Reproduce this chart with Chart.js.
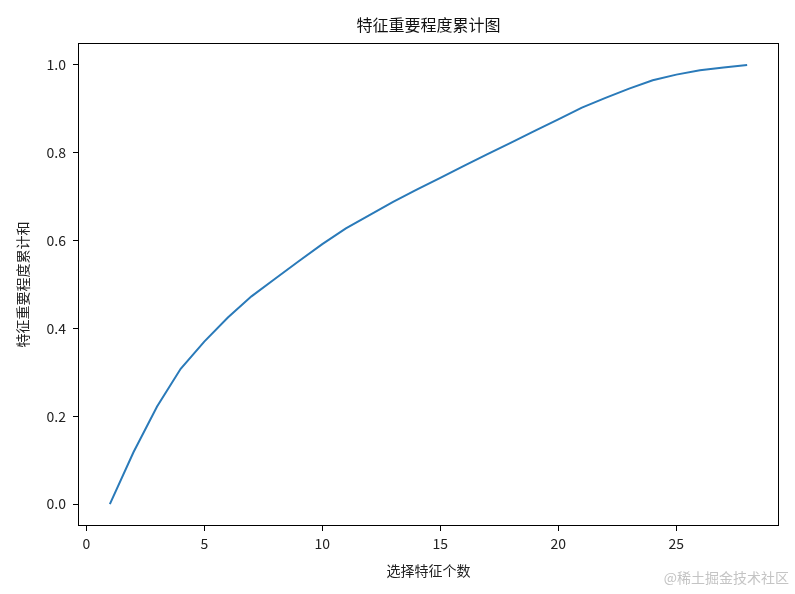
<!DOCTYPE html>
<html>
<head>
<meta charset="utf-8">
<script src="https://cdn.jsdelivr.net/npm/chart.js@4"></script>
<style>
html,body{margin:0;padding:0;background:#fff;}
#wrap{width:795px;height:594px;position:relative;}
</style>
</head>
<body>
<div id="wrap"><canvas id="c" width="795" height="594"></canvas></div>
<script>
const featureCounts = [1,2,3,4,5,6,7,8,9,10,11,12,13,14,15,16,17,18,19,20,21,22,23,24,25,26,27,28];
const cumulativeImportance = [0.000,0.118,0.222,0.308,0.370,0.425,0.473,0.513,0.553,0.592,0.628,0.658,0.688,0.716,0.743,0.770,0.797,0.823,0.850,0.876,0.903,0.925,0.946,0.965,0.978,0.988,0.994,1.000];
const xTickValues = [0,5,10,15,20,25];
const yTickValues = [0.0,0.2,0.4,0.6,0.8,1.0];
const chartTitle = '特征重要程度累计图';
const xAxisTitle = '选择特征个数';
const yAxisTitle = '特征重要程度累计和';
const watermark = '@稀土掘金技术社区';

const FONT = '"Noto Sans CJK SC", "DejaVu Sans", sans-serif';

const framePlugin = {
  id: 'frame',
  afterDraw(chart) {
    const {ctx, chartArea: a} = chart;
    ctx.save();
    ctx.strokeStyle = '#000';
    ctx.lineWidth = 1;
    ctx.strokeRect(a.left + 0.5, a.top + 0.5, a.right - a.left - 1, a.bottom - a.top - 1);
    ctx.fillStyle = '#111';
    ctx.font = '16px ' + FONT;
    ctx.textAlign = 'center';
    ctx.textBaseline = 'middle';
    ctx.fillText(chartTitle, (a.left + a.right) / 2, 25);
    ctx.fillStyle = '#c4c4c4';
    ctx.font = '14px ' + FONT;
    ctx.textAlign = 'right';
    ctx.fillText(watermark, 789, 578);
    ctx.restore();
  }
};

new Chart(document.getElementById('c'), {
  type: 'line',
  data: {
    datasets: [{
      data: featureCounts.map((x, i) => ({x: x, y: cumulativeImportance[i]})),
      borderColor: '#2a7ab9',
      borderWidth: 2,
      pointRadius: 0,
      tension: 0,
      fill: false
    }]
  },
  options: {
    responsive: false,
    animation: false,
    devicePixelRatio: 1,
    layout: {padding: {left: 0, right: 16, top: 43, bottom: 0}},
    plugins: {legend: {display: false}, tooltip: {enabled: false}, title: {display: false}},
    scales: {
      x: {
        type: 'linear',
        min: -0.35,
        max: 29.35,
        afterBuildTicks: (axis) => { axis.ticks = xTickValues.map(v => ({value: v})); },
        afterFit: (axis) => { axis.height = 68; },
        grid: {drawOnChartArea: false, drawTicks: true, tickLength: 5, tickColor: '#000', color: '#000'},
        border: {display: false},
        ticks: {color: '#222', font: {size: 14, family: FONT}, padding: 4, maxRotation: 0, callback: (v) => String(v)},
        title: {display: true, text: xAxisTitle, color: '#222', font: {size: 14, family: FONT}, padding: {top: 4, bottom: 15}}
      },
      y: {
        type: 'linear',
        min: -0.05,
        max: 1.05,
        afterBuildTicks: (axis) => { axis.ticks = yTickValues.map(v => ({value: v})); },
        afterFit: (axis) => { axis.width = 78; },
        grid: {drawOnChartArea: false, drawTicks: true, tickLength: 5, tickColor: '#000', color: '#000'},
        border: {display: false},
        ticks: {color: '#222', font: {size: 14, family: FONT}, padding: 7, callback: (v) => Number(v).toFixed(1)},
        title: {display: true, text: yAxisTitle, color: '#222', font: {size: 14, family: FONT}, padding: {top: 14, bottom: 4}}
      }
    }
  },
  plugins: [framePlugin]
});
</script>
</body>
</html>
